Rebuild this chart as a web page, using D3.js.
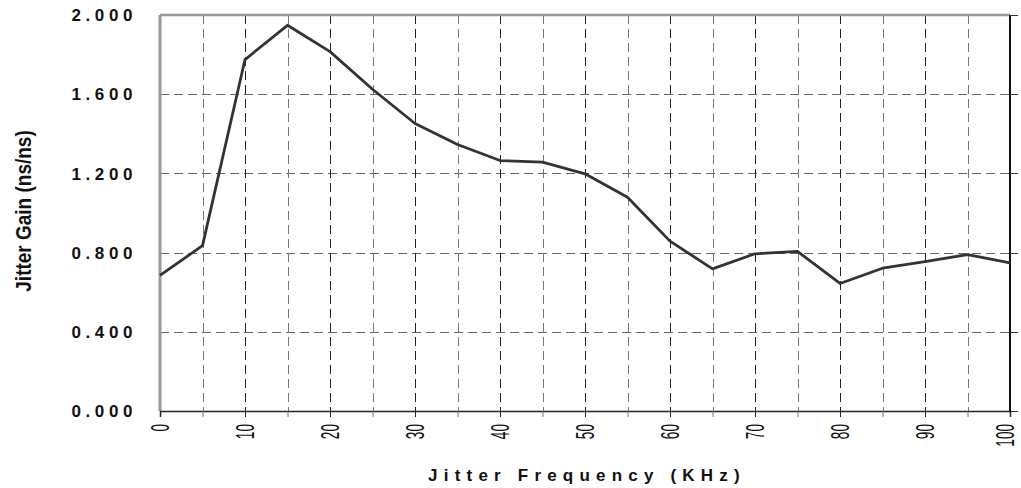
<!DOCTYPE html>
<html>
<head>
<meta charset="utf-8">
<script src="https://cdn.jsdelivr.net/npm/d3@7"></script>
<style>
body{margin:0;background:#fff;}
svg{display:block;font-family:"Liberation Sans",Arial,sans-serif;}
</style>
</head>
<body>
<div id="box"></div>
<script>
// jitter gain vs frequency
var freqs=[0,5,10,15,20,25,30,35,40,45,50,55,60,65,70,75,80,85,90,95,100];
var gains=[0.685,0.835,1.775,1.948,1.815,1.625,1.452,1.346,1.265,1.257,1.198,1.080,0.858,0.718,0.794,0.806,0.644,0.721,0.755,0.790,0.748];
var yticks=[0,0.4,0.8,1.2,1.6,2.0];
var xlabels=[0,10,20,30,40,50,60,70,80,90,100];
var xgrid=[5,10,15,20,25,30,35,40,45,50,55,60,65,70,75,80,85,90,95];

var svgwidth=1021,svgheight=488;
var margin={"top":15,"right":11,"bottom":77,"left":160}
var w=svgwidth-margin.left-margin.right;
var h=svgheight-margin.top-margin.bottom;

var xscale=d3.scaleLinear().domain([0,100]).range([0,w])
var yscale=d3.scaleLinear().domain([0,2]).range([h,0])

var svg=d3.select("#box").append("svg")
          .attr("width",svgwidth)
          .attr("height",svgheight)
var board=svg.append("g")
             .attr("transform","translate("+margin.left+","+margin.top+")")

// horizontal grid
board.append("g").selectAll("line")
     .data(yticks.slice(1,-1))
     .enter().append("line")
     .attr("x1",0).attr("x2",w)
     .attr("y1",function(d){return Math.round(yscale(d))+0.5})
     .attr("y2",function(d){return Math.round(yscale(d))+0.5})
     .attr("stroke","#666")
     .attr("stroke-dasharray","9,5")

// vertical grid
board.append("g").selectAll("line")
     .data(xgrid)
     .enter().append("line")
     .attr("x1",function(d){return Math.round(xscale(d))+0.5})
     .attr("x2",function(d){return Math.round(xscale(d))+0.5})
     .attr("y1",0).attr("y2",h)
     .attr("stroke",function(d){return d%10==0?"#222":"#777"})
     .attr("stroke-dasharray","9,5")

// frame: grey top and left, black right
board.append("line").attr("x1",0).attr("x2",w).attr("y1",0).attr("y2",0)
     .attr("stroke","#999").attr("stroke-width",2.5)
board.append("line").attr("x1",0).attr("x2",0).attr("y1",0).attr("y2",h)
     .attr("stroke","#999").attr("stroke-width",3)
board.append("line").attr("x1",w).attr("x2",w).attr("y1",0).attr("y2",h)
     .attr("stroke","#111").attr("stroke-width",2)

// ticks on the right frame
board.append("g").selectAll("line")
     .data(yticks)
     .enter().append("line")
     .attr("x1",w).attr("x2",w+8)
     .attr("y1",function(d){return Math.round(yscale(d))+0.5})
     .attr("y2",function(d){return Math.round(yscale(d))+0.5})
     .attr("stroke","#333")

// x axis
var xAxis=d3.axisBottom(xscale)
            .tickValues(freqs)
            .tickSize(6)
            .tickFormat("")
var xg=board.append("g")
     .attr("transform","translate(0,"+h+")")
     .call(xAxis)
xg.select(".domain").attr("stroke","#222").attr("stroke-width",1.5)
xg.selectAll(".tick line").attr("stroke",function(d){return d%10==0?"#222":"#777"})

board.append("g").selectAll("text")
     .data(xlabels)
     .enter().append("text")
     .attr("transform",function(d){
         var px=xscale(d); if(d==100) px=px-5;  // keep last label inside the page
         return "translate("+px+","+(h+13)+") rotate(-90) scale(0.85,1.6)"})
     .attr("text-anchor","end")
     .attr("dy","0.36em")
     .style("font-size","16px")
     .attr("fill","#111")
     .text(function(d){return d})

// y labels
board.append("g").selectAll("text")
     .data(yticks)
     .enter().append("text")
     .attr("x",-23)
     .attr("y",function(d){return yscale(d)})
     .attr("dy","0.36em")
     .attr("text-anchor","end")
     .style("font-size","17px")
     .style("font-weight","bold")
     .style("letter-spacing","4.6px")
     .attr("fill","#111")
     .text(function(d){return d3.format(".3f")(d)})

// the curve
var line=d3.line()
           .x(function(d,i){return xscale(freqs[i])})
           .y(function(d){return yscale(d)})
board.append("path")
     .datum(gains)
     .attr("d",line)
     .attr("fill","none")
     .attr("stroke","#333")
     .attr("stroke-width",2.8)
     .attr("stroke-linejoin","round")

// axis titles
svg.append("text")
   .attr("transform","translate(23,211) rotate(-90) scale(1,1.2)")
   .attr("text-anchor","middle")
   .attr("dy","0.35em")
   .style("font-size","19px")
   .style("font-weight","bold")
   .attr("fill","#111")
   .text("Jitter Gain (ns/ns)")
svg.append("text")
   .attr("x",587)
   .attr("y",481)
   .attr("text-anchor","middle")
   .style("font-size","17px")
   .style("font-weight","bold")
   .style("letter-spacing","6.2px")
   .attr("fill","#111")
   .text("Jitter Frequency (KHz)")
</script>
</body>
</html>
